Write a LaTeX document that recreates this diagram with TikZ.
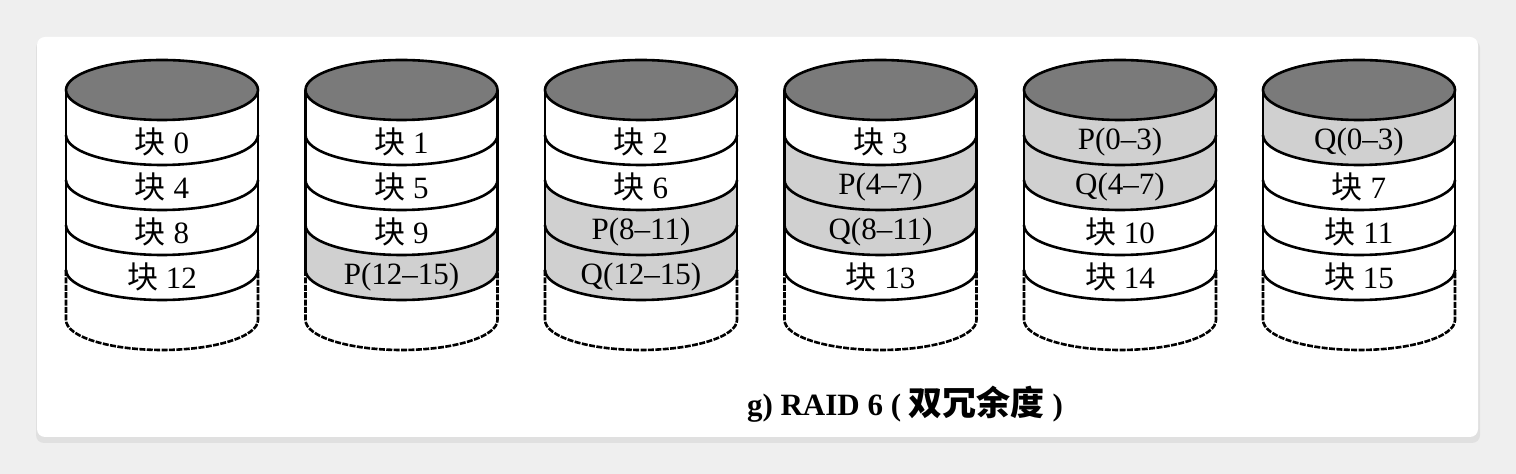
\documentclass[tikz,border=0pt]{standalone}
\usepackage{fontspec}
\setmainfont{Liberation Serif}
\newfontfamily\cjk{Noto Sans CJK SC}
\definecolor{lidgray}{HTML}{7A7A7A}
\definecolor{paritygray}{HTML}{D0D0D0}
\definecolor{pagegray}{HTML}{EFEFEF}
\newcommand\blk[1]{{\cjk 块}\ #1}
% one disk: name, left edge, list of label/shaded
\newcommand\raiddisk[3]{%
	\foreach \txt/\sh [count=\k] in {#3}{%
		\ifnum\sh=1
			\fill[paritygray] (#2, 45*\k+45) arc[start angle=180, end angle=0, x radius=96, y radius=30] -- (#2+192, 45*\k+90) arc[start angle=0, end angle=180, x radius=96, y radius=30] -- cycle;
		\fi
	}
	\foreach \txt/\sh [count=\k] in {#3}{%
		\draw[disk line] (#2, 45*\k+90) arc[start angle=180, end angle=0, x radius=96, y radius=30];
		\node[block label] (#1-\k) at (#2+96, 45*\k+97) {\txt};
	}
	\draw[disk line, fill=lidgray] (#2+96, 90) ellipse [x radius=96, y radius=30];
	\draw[disk line] (#2, 90) -- (#2, 270);
	\draw[disk line] (#2+192, 90) -- (#2+192, 270);
	\draw[disk line, bottom dash] (#2, 270) -- (#2, 320) arc[start angle=180, end angle=0, x radius=96, y radius=30] -- (#2+192, 270);
}

\begin{document}
\begin{tikzpicture}[x=0.5pt, y=-0.5pt,
	disk line/.style={line width=1.3pt},
	bottom dash/.style={dash pattern=on 3pt off 0.7pt},
	block label/.style={font=\fontsize{15.5}{18}\selectfont, inner sep=0pt},
	caption label/.style={font=\fontsize{15.5}{18}\selectfont\bfseries, inner sep=0pt}]
	%%%%% CARD %%%%%
	\useasboundingbox (0,0) rectangle (1516,474);
	\fill[pagegray] (0,0) rectangle (1516,474);
	\fill[black!12, rounded corners=4pt] (36,40) rectangle (1480,443);
	\fill[white, rounded corners=4pt] (37,37) rectangle (1478,437);
	
	%%%%% DISKS %%%%%
	\raiddisk{d0}{66}{\blk{0}/0, \blk{4}/0, \blk{8}/0, \blk{12}/0}
	\raiddisk{d1}{305.5}{\blk{1}/0, \blk{5}/0, \blk{9}/0, P(12–15)/1}
	\raiddisk{d2}{545}{\blk{2}/0, \blk{6}/0, P(8–11)/1, Q(12–15)/1}
	\raiddisk{d3}{784.5}{\blk{3}/0, P(4–7)/1, Q(8–11)/1, \blk{13}/0}
	\raiddisk{d4}{1024}{P(0–3)/1, Q(4–7)/1, \blk{10}/0, \blk{14}/0}
	\raiddisk{d5}{1263}{Q(0–3)/1, \blk{7}/0, \blk{11}/0, \blk{15}/0}
	
	\node[caption label] (caption) at (905, 404) {g) RAID 6 (\ {\fontsize{17}{18}\selectfont\cjk 双冗余度}\ )};
\end{tikzpicture}
\end{document}
